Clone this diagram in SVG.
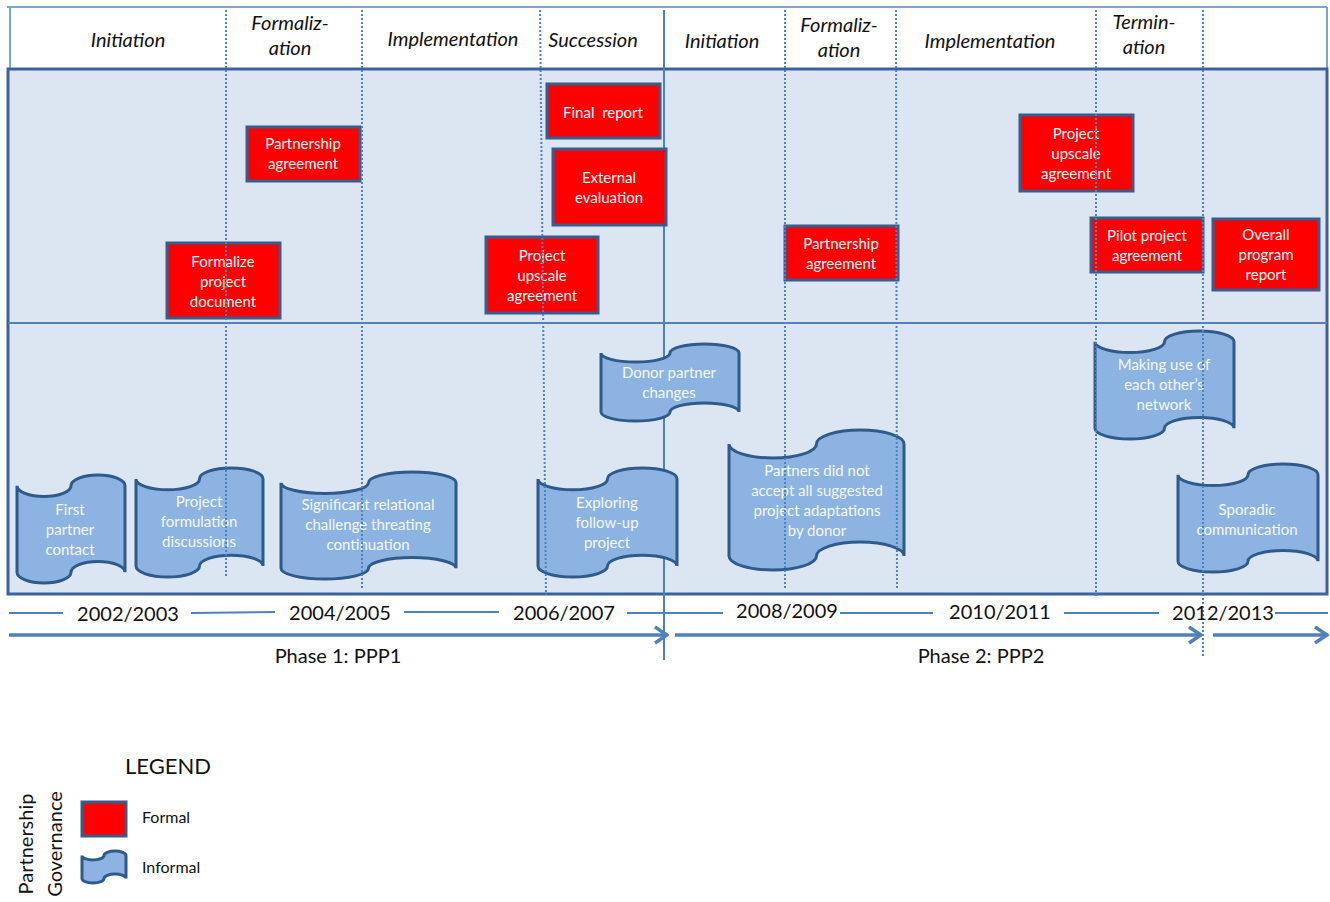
<svg xmlns="http://www.w3.org/2000/svg" width="1330" height="902" viewBox="0 0 1330 902">
<style>
text{font-family:Lato,"Open Sans","Liberation Sans",sans-serif}
.hdr{font-size:20px;font-style:italic;fill:#111;text-anchor:middle}
.ft{font-size:15px;fill:#fff;text-anchor:middle}
.it{font-size:15px;fill:#f4f7fb;text-anchor:middle}
.yr{font-size:20px;fill:#111;text-anchor:middle}
.formal{fill:#ff0000;stroke:#365d8d;stroke-width:3}
.informal{fill:#8db3e2;stroke:#2f5b8c;stroke-width:3}
.dot{stroke:#4f81bd;stroke-width:2;stroke-dasharray:2 2;fill:none}
.tl{stroke:#4f81bd;stroke-width:2;fill:none}
.arr{stroke:#4f81bd;stroke-width:3.5;fill:none;marker-end:url(#chev)}
</style>
<defs>
<marker id="chev" viewBox="0 0 16 20" markerWidth="16" markerHeight="20" refX="14" refY="10" orient="auto" markerUnits="userSpaceOnUse">
<path d="M2,2 L14,10 L2,18" fill="none" stroke="#4f81bd" stroke-width="3.5"/>
</marker>
</defs>
<rect width="1330" height="902" fill="#fff"/>

<!-- header frame -->
<g id="header">
<line x1="7" y1="7" x2="1327" y2="7" stroke="#7ea3d6" stroke-width="2"/>
<line x1="10" y1="7" x2="10" y2="69" stroke="#7ea3d6" stroke-width="2"/>
<line x1="1327" y1="7" x2="1327" y2="69" stroke="#7ea3d6" stroke-width="2"/>
<text class="hdr" x="128" y="47">Initiation</text>
<text class="hdr" x="290" y="30">Formaliz-</text>
<text class="hdr" x="290" y="55">ation</text>
<text class="hdr" x="453" y="46">Implementation</text>
<text class="hdr" x="593" y="47">Succession</text>
<text class="hdr" x="722" y="48">Initiation</text>
<text class="hdr" x="839" y="32">Formaliz-</text>
<text class="hdr" x="839" y="57">ation</text>
<text class="hdr" x="990" y="48">Implementation</text>
<text class="hdr" x="1144" y="29">Termin-</text>
<text class="hdr" x="1144" y="54">ation</text>
</g>

<!-- main panel -->
<g id="panel">
<rect x="8" y="69" width="1319" height="525" fill="#dce6f2" stroke="#3a62a0" stroke-width="3"/>
<line x1="8" y1="323" x2="1327" y2="323" stroke="#4f81bd" stroke-width="2"/>
<line x1="664" y1="10" x2="664" y2="660" stroke="#4f81bd" stroke-width="2"/>
</g>

<!-- formal nodes -->
<g id="final-report"><rect class="formal" x="547" y="84" width="113" height="54"/><text class="ft" x="603" y="118" style="white-space:pre">Final  report</text></g>
<g id="partnership-agreement-1"><rect class="formal" x="247" y="127" width="113" height="54"/><text class="ft" x="303" y="149">Partnership</text><text class="ft" x="303" y="169">agreement</text></g>
<g id="external-evaluation"><rect class="formal" x="553" y="149" width="113" height="76"/><text class="ft" x="609" y="183">External</text><text class="ft" x="609" y="203">evaluation</text></g>
<g id="formalize-project-document"><rect class="formal" x="167" y="243" width="113" height="75"/><text class="ft" x="223" y="267">Formalize</text><text class="ft" x="223" y="287">project</text><text class="ft" x="223" y="307">document</text></g>
<g id="project-upscale-agreement-1"><rect class="formal" x="486" y="237" width="112" height="76"/><text class="ft" x="542" y="261">Project</text><text class="ft" x="542" y="281">upscale</text><text class="ft" x="542" y="301">agreement</text></g>
<g id="project-upscale-agreement-2"><rect class="formal" x="1020" y="115" width="113" height="76"/><text class="ft" x="1076" y="139">Project</text><text class="ft" x="1076" y="159">upscale</text><text class="ft" x="1076" y="179">agreement</text></g>
<g id="partnership-agreement-2"><rect class="formal" x="785" y="226" width="113" height="54"/><text class="ft" x="841" y="249">Partnership</text><text class="ft" x="841" y="269">agreement</text></g>
<g id="pilot-project-agreement"><rect class="formal" x="1091" y="218" width="112" height="54"/><text class="ft" x="1147" y="241">Pilot project</text><text class="ft" x="1147" y="261">agreement</text></g>
<g id="overall-program-report"><rect class="formal" x="1213" y="219" width="106" height="71"/><text class="ft" x="1266" y="240">Overall</text><text class="ft" x="1266" y="260">program</text><text class="ft" x="1266" y="280">report</text></g>

<!-- informal nodes -->
<g id="first-partner-contact"><path class="informal" d="M17,485.8 A27,10.8 0 0 0 71,485.8 A27,10.8 0 0 1 125,485.8 L125,572.2 A27,10.8 0 0 0 71,572.2 A27,10.8 0 0 1 17,572.2 Z"/><text class="it" x="70" y="515">First</text><text class="it" x="70" y="535">partner</text><text class="it" x="70" y="555">contact</text></g>
<g id="project-formulation-discussions"><path class="informal" d="M136,478.9 A31.75,10.9 0 0 0 199.5,478.9 A31.75,10.9 0 0 1 263,478.9 L263,566.1 A31.75,10.9 0 0 0 199.5,566.1 A31.75,10.9 0 0 1 136,566.1 Z"/><text class="it" x="199" y="507">Project</text><text class="it" x="199" y="527">formulation</text><text class="it" x="199" y="547">discussions</text></g>
<g id="significant-relational-challenge"><path class="informal" d="M281,482.7 A43.75,10.7 0 0 0 368.5,482.7 A43.75,10.7 0 0 1 456,482.7 L456,568.3 A43.75,10.7 0 0 0 368.5,568.3 A43.75,10.7 0 0 1 281,568.3 Z"/><text class="it" x="368" y="510">Significant relational</text><text class="it" x="368" y="530">challenge threating</text><text class="it" x="368" y="550">continuation</text></g>
<g id="exploring-follow-up-project"><path class="informal" d="M538,478.9 A34.75,10.9 0 0 0 607.5,478.9 A34.75,10.9 0 0 1 677,478.9 L677,566.1 A34.75,10.9 0 0 0 607.5,566.1 A34.75,10.9 0 0 1 538,566.1 Z"/><text class="it" x="607" y="508">Exploring</text><text class="it" x="607" y="528">follow-up</text><text class="it" x="607" y="548">project</text></g>
<g id="donor-partner-changes"><path class="informal" d="M601,353 A34.5,9 0 0 0 670,353 A34.5,9 0 0 1 739,353 L739,412 A34.5,9 0 0 0 670,412 A34.5,9 0 0 1 601,412 Z"/><text class="it" x="669" y="378">Donor partner</text><text class="it" x="669" y="398">changes</text></g>
<g id="partners-did-not-accept"><path class="informal" d="M729,444 A43.75,14 0 0 0 816.5,444 A43.75,14 0 0 1 904,444 L904,556 A43.75,14 0 0 0 816.5,556 A43.75,14 0 0 1 729,556 Z"/><text class="it" x="817" y="476">Partners did not</text><text class="it" x="817" y="496">accept all suggested</text><text class="it" x="817" y="516">project adaptations</text><text class="it" x="817" y="536">by donor</text></g>
<g id="making-use-of-network"><path class="informal" d="M1095,341.8 A34.75,10.8 0 0 0 1164.5,341.8 A34.75,10.8 0 0 1 1234,341.8 L1234,428.2 A34.75,10.8 0 0 0 1164.5,428.2 A34.75,10.8 0 0 1 1095,428.2 Z"/><text class="it" x="1164" y="370">Making use of</text><text class="it" x="1164" y="390">each other’s</text><text class="it" x="1164" y="410">network</text></g>
<g id="sporadic-communication"><path class="informal" d="M1178,474.8 A35,10.8 0 0 0 1248,474.8 A35,10.8 0 0 1 1318,474.8 L1318,561.2 A35,10.8 0 0 0 1248,561.2 A35,10.8 0 0 1 1178,561.2 Z"/><text class="it" x="1247" y="515">Sporadic</text><text class="it" x="1247" y="535">communication</text></g>

<!-- phase dividers (dotted) -->
<g id="connectors">
<line class="dot" x1="226" y1="10" x2="226" y2="578"/>
<line class="dot" x1="362" y1="10" x2="362" y2="590"/>
<line class="dot" x1="540" y1="10" x2="546" y2="595"/>
<line class="dot" x1="785" y1="10" x2="785" y2="588"/>
<line class="dot" x1="896" y1="10" x2="897" y2="588"/>
<line class="dot" x1="1096" y1="10" x2="1096" y2="597"/>
<line class="dot" x1="1203" y1="10" x2="1203" y2="657"/>
</g>

<!-- timeline -->
<g id="timeline">
<line class="tl" x1="9" y1="613" x2="63" y2="613"/>
<line class="tl" x1="191" y1="613" x2="275" y2="612"/>
<line class="tl" x1="404" y1="612" x2="499" y2="612"/>
<line class="tl" x1="627" y1="613" x2="723" y2="613"/>
<line class="tl" x1="840" y1="613" x2="933" y2="613"/>
<line class="tl" x1="1064" y1="613" x2="1159" y2="613"/>
<line class="tl" x1="1275" y1="613" x2="1328" y2="613"/>
<text class="yr" x="128" y="621">2002/2003</text>
<text class="yr" x="340" y="620">2004/2005</text>
<text class="yr" x="564" y="620">2006/2007</text>
<text class="yr" x="787" y="618">2008/2009</text>
<text class="yr" x="1000" y="619">2010/2011</text>
<text class="yr" x="1223" y="620">2012/2013</text>
<line class="arr" x1="9" y1="635" x2="667" y2="635"/>
<line class="arr" x1="675" y1="635" x2="1201" y2="635"/>
<line class="arr" x1="1213" y1="635" x2="1327" y2="635"/>
<text class="yr" x="338" y="663">Phase 1: PPP1</text>
<text class="yr" x="981" y="663">Phase 2: PPP2</text>
</g>

<!-- legend -->
<g id="legend">
<text x="125" y="774" style="font-size:22px;fill:#111">LEGEND</text>
<text transform="translate(33,844) rotate(-90)" style="font-size:20px;fill:#111;text-anchor:middle">Partnership</text>
<text transform="translate(62,844) rotate(-90)" style="font-size:20px;fill:#111;text-anchor:middle">Governance</text>
<rect class="formal" x="82" y="802" width="44" height="34"/>
<text x="142" y="823" style="font-size:16px;fill:#111">Formal</text>
<path class="informal" d="M82,855.5 A11,4.5 0 0 0 104,855.5 A11,4.5 0 0 1 126,855.5 L126,878.5 A11,4.5 0 0 0 104,878.5 A11,4.5 0 0 1 82,878.5 Z"/>
<text x="142" y="873" style="font-size:16px;fill:#111">Informal</text>
</g>
</svg>
